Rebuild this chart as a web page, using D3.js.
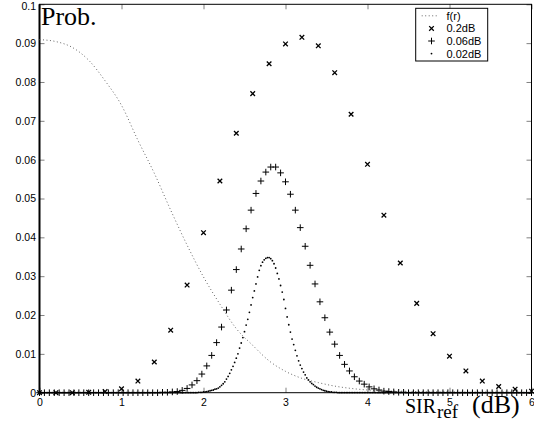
<!DOCTYPE html>
<html>
<head>
<meta charset="utf-8">
<script src="https://d3js.org/d3.v7.min.js"></script>
<style>
  body { margin: 0; background: #fff; }
  svg text { font-family: "Liberation Sans", Arial, sans-serif; }
  .ticklbl { font-size: 10.5px; fill: #000; }
  .serif { font-family: "Liberation Serif", "Times New Roman", serif; }
</style>
</head>
<body>
<svg id="chart" width="534" height="431"></svg>
<script>
// x positions of the 0.2 dB grid (also used for f(r))
var xGrid02 = [0, 0.2, 0.4, 0.6, 0.8, 1.0, 1.2, 1.4, 1.6, 1.8, 2.0, 2.2, 2.4, 2.6, 2.8, 3.0,
  3.2, 3.4, 3.6, 3.8, 4.0, 4.2, 4.4, 4.6, 4.8, 5.0, 5.2, 5.4, 5.6, 5.8, 6.0];

// f(r), dotted curve
var fr = [0.0909, 0.0904, 0.0889, 0.0856, 0.0803, 0.0740, 0.0650, 0.0565, 0.0470, 0.0380,
  0.0298, 0.0228, 0.0165, 0.0122, 0.0082, 0.0055, 0.0037, 0.0026, 0.0017, 0.0011,
  0.0007, 0.0005, 0.0004, 0.0003, 0.0002, 0.0002, 0.0001, 0.0001, 0.0001, 0.0001, 0];

// 0.2dB step (x marks)
var p02 = [0, 0, 0, 0.0001, 0.0003, 0.0010, 0.0030, 0.0079, 0.0161, 0.0277,
  0.0412, 0.0545, 0.0668, 0.0770, 0.0847, 0.0898, 0.0915, 0.0893, 0.0824, 0.0717,
  0.0588, 0.0457, 0.0334, 0.0230, 0.0152, 0.0094, 0.0056, 0.0030, 0.0016, 0.0009, 0.0004];

// 0.06dB step (+ marks), x = 0, 0.06, ... 6
var step006 = 0.06;
var p006 = [
  0, 0, 0, 0, 0, 0, 0, 0, 0, 0,
  0, 0, 0, 0, 0, 0, 0, 0, 0, 0,
  0, 0, 0, 0, 0, 0.0001, 0.0001, 0.0002, 0.0003, 0.0006,
  0.0011, 0.0020, 0.0031, 0.0048, 0.0069, 0.0096, 0.0129, 0.0169, 0.0213, 0.0264,
  0.0317, 0.0370, 0.0422, 0.0470, 0.0513, 0.0545, 0.0568, 0.0581, 0.0581, 0.0566,
  0.0543, 0.0511, 0.0470, 0.0425, 0.0377, 0.0328, 0.0280, 0.0234, 0.0193, 0.0156,
  0.0125, 0.0096, 0.0073, 0.0056, 0.0041, 0.0030, 0.0022, 0.0015, 0.0010, 0.0007,
  0.0004, 0.0003, 0.0002, 0.0001, 0.0001, 0, 0, 0, 0, 0,
  0, 0, 0, 0, 0, 0, 0, 0, 0, 0,
  0, 0, 0, 0, 0, 0, 0, 0, 0, 0,
  0];

// 0.02dB step (dots), x = 0, 0.02, ... 6
var step002 = 0.02;
var p002 = [
  0, 0, 0, 0, 0, 0, 0, 0, 0, 0,
  0, 0, 0, 0, 0, 0, 0, 0, 0, 0,
  0, 0, 0, 0, 0, 0, 0, 0, 0, 0,
  0, 0, 0, 0, 0, 0, 0, 0, 0, 0,
  0, 0, 0, 0, 0, 0, 0, 0, 0, 0,
  0, 0, 0, 0, 0, 0, 0, 0, 0, 0,
  0, 0, 0, 0, 0, 0, 0, 0, 0, 0,
  0, 0, 0, 0, 0, 0, 0, 0, 0, 0,
  0, 0, 0, 0, 0, 0, 0, 0, 0, 0,
  0, 0, 0, 0, 0, 0, 0, 0.0001, 0.0001, 0.0001,
  0.0002, 0.0002, 0.0003, 0.0004, 0.0005, 0.0006, 0.0007, 0.0009, 0.0010, 0.0012,
  0.0015, 0.0019, 0.0023, 0.0028, 0.0035, 0.0042, 0.0050, 0.0059, 0.0068, 0.0078,
  0.0089, 0.0100, 0.0115, 0.0128, 0.0142, 0.0157, 0.0174, 0.0189, 0.0207, 0.0226,
  0.0245, 0.0262, 0.0280, 0.0298, 0.0315, 0.0327, 0.0336, 0.0342, 0.0346, 0.0348,
  0.0348, 0.0345, 0.0340, 0.0332, 0.0321, 0.0307, 0.0293, 0.0276, 0.0259, 0.0240,
  0.0217, 0.0195, 0.0175, 0.0156, 0.0138, 0.0124, 0.0109, 0.0095, 0.0082, 0.0071,
  0.0062, 0.0053, 0.0046, 0.0038, 0.0033, 0.0028, 0.0024, 0.0021, 0.0017, 0.0014,
  0.0012, 0.0010, 0.0008, 0.0006, 0.0005, 0.0004, 0.0003, 0.0002, 0.0002, 0.0001,
  0.0001, 0.0001, 0, 0, 0, 0, 0, 0, 0, 0,
  0, 0, 0, 0, 0, 0, 0, 0, 0, 0,
  0, 0, 0, 0, 0, 0, 0, 0, 0, 0,
  0, 0, 0, 0, 0, 0, 0, 0, 0, 0,
  0, 0, 0, 0, 0, 0, 0, 0, 0, 0,
  0, 0, 0, 0, 0, 0, 0, 0, 0, 0,
  0, 0, 0, 0, 0, 0, 0, 0, 0, 0,
  0, 0, 0, 0, 0, 0, 0, 0, 0, 0,
  0, 0, 0, 0, 0, 0, 0, 0, 0, 0,
  0, 0, 0, 0, 0, 0, 0, 0, 0, 0,
  0, 0, 0, 0, 0, 0, 0, 0, 0, 0,
  0, 0, 0, 0, 0, 0, 0, 0, 0, 0,
  0];

var xTicks = [0, 1, 2, 3, 4, 5, 6];
var yTicks = [0, 0.01, 0.02, 0.03, 0.04, 0.05, 0.06, 0.07, 0.08, 0.09, 0.1];
var yTickLabels = ["0", "0.01", "0.02", "0.03", "0.04", "0.05", "0.06", "0.07", "0.08", "0.09", "0.1"];
var legendNames = ["f(r)", "0.2dB", "0.06dB", "0.02dB"];

var plotL = 39.5, plotR = 531.5, plotT = 4.3, plotB = 392.7;
var svg = d3.select("#chart");

var x = d3.scaleLinear().domain([0, 6]).range([plotL, plotR]);
var y = d3.scaleLinear().domain([0, 0.1]).range([plotB, plotT]);

function styleTicks(g) {
  g.select(".domain").remove();
  g.selectAll(".tick line").attr("stroke", "#808080").attr("stroke-width", 1);
  g.selectAll(".tick text").attr("class", "ticklbl");
}

// axes with inward ticks on all four sides
var yAxisG = svg.append("g")
  .attr("transform", "translate(" + plotL + ",0)")
  .call(d3.axisLeft(y).tickValues(yTicks).tickSize(-5).tickPadding(3.5)
    .tickFormat(function (d, i) { return yTickLabels[i]; }))
  .call(styleTicks);
// top label sits a little lower so it stays inside the page
yAxisG.selectAll(".tick text").filter(function (d) { return d === 0.1; }).attr("y", 2);

svg.append("g")
  .attr("transform", "translate(" + plotR + ",0)")
  .call(d3.axisRight(y).tickValues(yTicks).tickSize(-5).tickFormat(""))
  .call(styleTicks);
svg.append("g")
  .attr("transform", "translate(0," + plotB + ")")
  .call(d3.axisBottom(x).tickValues(xTicks).tickSize(-5).tickPadding(5.8)
    .tickFormat(d3.format("d")))
  .call(styleTicks);
svg.append("g")
  .attr("transform", "translate(0," + plotT + ")")
  .call(d3.axisTop(x).tickValues(xTicks).tickSize(-5).tickFormat(""))
  .call(styleTicks);

// box
svg.append("rect")
  .attr("x", plotL).attr("y", plotT)
  .attr("width", plotR - plotL).attr("height", plotB - plotT)
  .attr("fill", "none").attr("stroke", "#000").attr("stroke-width", 1);
svg.append("line")
  .attr("x1", plotL).attr("x2", plotL).attr("y1", plotT).attr("y2", plotB)
  .attr("stroke", "#000").attr("stroke-width", 2);

// f(r)
var frData = xGrid02.map(function (d, i) { return [d, fr[i]]; });
svg.append("path")
  .datum(frData)
  .attr("fill", "none")
  .attr("stroke", "#666")
  .attr("stroke-width", 1)
  .attr("stroke-dasharray", "1,2.5")
  .attr("d", d3.line()
    .x(function (d) { return x(d[0]); })
    .y(function (d) { return y(d[1]); })
    .curve(d3.curveMonotoneX));

var xMark = "M-2.3,-2.3L2.3,2.3M-2.3,2.3L2.3,-2.3";
var plusMark = "M-3.3,0L3.3,0M0,-3.3L0,3.3";

// 0.02dB dots
svg.append("g").selectAll("circle")
  .data(p002)
  .enter().append("circle")
  .attr("cx", function (d, i) { return x(i * step002); })
  .attr("cy", function (d) { return y(d); })
  .attr("r", 0.9)
  .attr("fill", "#000");

// 0.06dB plus
svg.append("g").selectAll("path")
  .data(p006)
  .enter().append("path")
  .attr("transform", function (d, i) { return "translate(" + x(i * step006) + "," + y(d) + ")"; })
  .attr("d", plusMark)
  .attr("stroke", "#000").attr("stroke-width", 1).attr("fill", "none");

// 0.2dB crosses
svg.append("g").selectAll("path")
  .data(p02)
  .enter().append("path")
  .attr("transform", function (d, i) { return "translate(" + x(xGrid02[i]) + "," + y(d) + ")"; })
  .attr("d", xMark)
  .attr("stroke", "#000").attr("stroke-width", 1.3).attr("fill", "none");

// legend
var lg = svg.append("g");
lg.append("rect")
  .attr("x", 415.7).attr("y", 8.3).attr("width", 72).attr("height", 52.7)
  .attr("fill", "#fff").attr("stroke", "#000").attr("stroke-width", 1);
legendNames.forEach(function (name, i) {
  var ly = 15.8 + i * 12.6;
  if (i === 0) {
    lg.append("line")
      .attr("x1", 421.7).attr("x2", 439).attr("y1", ly).attr("y2", ly)
      .attr("stroke", "#666").attr("stroke-dasharray", "1,2.5");
  } else if (i === 1) {
    lg.append("path").attr("transform", "translate(431.5," + ly + ")")
      .attr("d", xMark).attr("stroke", "#000").attr("stroke-width", 1.3).attr("fill", "none");
  } else if (i === 2) {
    lg.append("path").attr("transform", "translate(431.5," + ly + ")")
      .attr("d", plusMark).attr("stroke", "#000").attr("fill", "none");
  } else {
    lg.append("circle").attr("cx", 431.5).attr("cy", ly).attr("r", 0.9).attr("fill", "#000");
  }
  lg.append("text")
    .attr("x", 446.5).attr("y", ly)
    .attr("dy", "0.36em")
    .attr("font-size", "11px")
    .text(name);
});

// labels
svg.append("text")
  .attr("class", "serif")
  .attr("x", 41).attr("y", 24.5)
  .attr("font-size", "26px")
  .text("Prob.");

var xl = svg.append("text")
  .attr("class", "serif")
  .attr("x", 405).attr("y", 413)
  .attr("font-size", "26px");
xl.append("tspan").attr("font-size", "20px").text("SIR");
xl.append("tspan").attr("x", 437).attr("font-size", "19px").attr("dy", "5").text("ref");
xl.append("tspan").attr("x", 472).attr("dy", "-5").text("(dB)");
</script>
</body>
</html>
